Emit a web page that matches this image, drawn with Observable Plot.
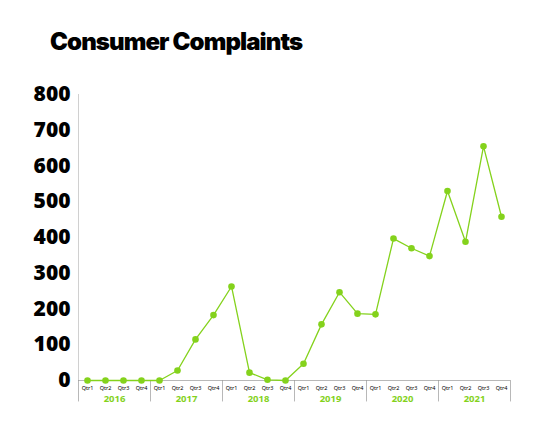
<!DOCTYPE html><html><head><meta charset="utf-8">
<script src="https://cdn.jsdelivr.net/npm/d3@7"></script>
<script src="https://cdn.jsdelivr.net/npm/@observablehq/plot@0.6"></script>
<style>body{margin:0;background:#fff;font-family:Inter,"Noto Sans",sans-serif}
#t{position:absolute;left:50px;top:27px;font-size:24px;font-weight:900;letter-spacing:-0.9px;color:#000}
#c{position:absolute;left:0;top:80px}</style></head><body>
<div id="t">Consumer Complaints</div><div id="c"></div>
<script>
const years = ["2016","2017","2018","2019","2020","2021"];
const quarters = ["Qtr1","Qtr2","Qtr3","Qtr4"];
const values = [0,0,0,0, 0,28,115,183, 263,22,2,0, 47,157,247,187, 185,397,370,348, 530,388,655,458];
const yTicks = [0,100,200,300,400,500,600,700,800];
const green = "#84d21c";
const data = values.map((v,i)=>({i, v, q: quarters[i%4], y: years[Math.floor(i/4)]}));
const seps = d3.range(0, years.length+1).map(k=>k*4-0.5);
const yearData = years.map((y,k)=>({y, x:k*4+1.5}));
const plot = Plot.plot({
  width:553, height:356, marginLeft:78, marginRight:43, marginTop:14, marginBottom:56,
  x:{domain:[-0.5,23.5], axis:null},
  y:{domain:[0,800], ticks:yTicks, label:null},
  marks:[
    Plot.ruleX(seps,{x:d=>d, y1:0, y2:-60, stroke:"#999", strokeWidth:0.7, clip:false}),
    Plot.ruleX([-0.5],{y1:0,y2:800,stroke:"#bbb",strokeWidth:0.7}),
    Plot.ruleY([0],{stroke:"#999",strokeWidth:0.7}),
    Plot.axisY({ticks:yTicks, tickSize:0, tickPadding:8, fontSize:21, fontWeight:900, label:null, fill:"#000"}),
    Plot.line(data,{x:"i",y:"v",stroke:green,strokeWidth:1.3}),
    Plot.dot(data,{x:"i",y:"v",fill:green,r:3.3}),
    Plot.text(data,{x:"i",text:"q",frameAnchor:"bottom",dy:9,fontSize:5.5,fill:"#000"}),
    Plot.text(yearData,{x:"x",text:"y",frameAnchor:"bottom",dy:21,fontSize:9.5,fontWeight:700,fill:green})
  ]
});
document.getElementById("c").append(plot);
</script></body></html>
